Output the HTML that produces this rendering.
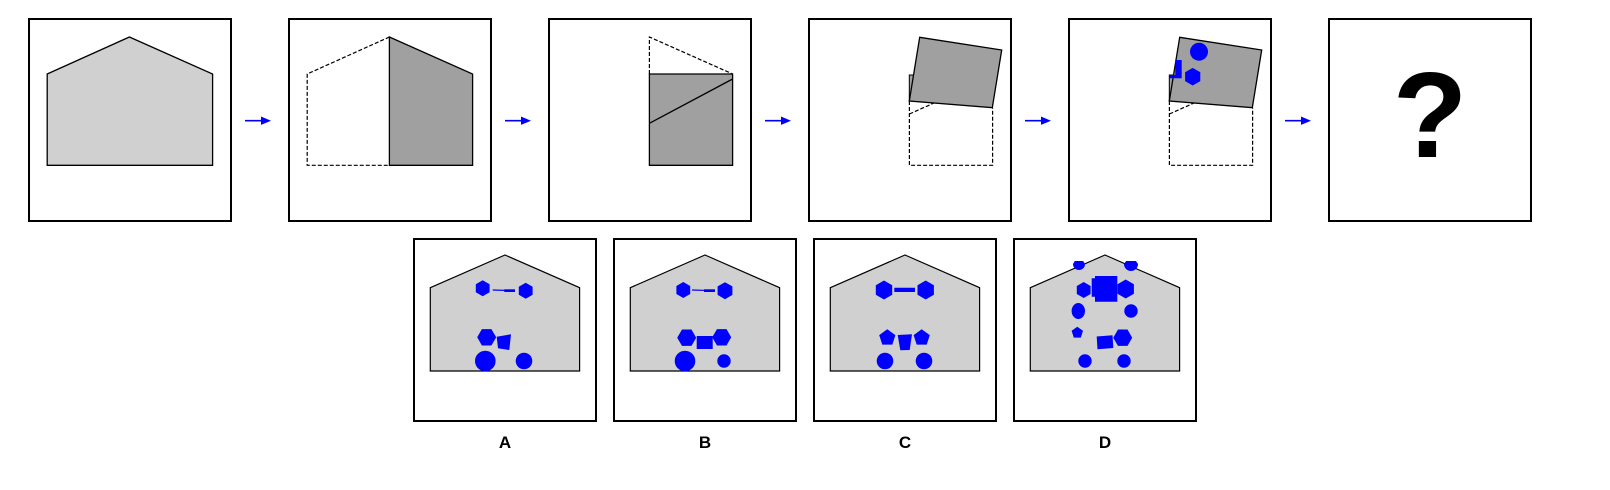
<!DOCTYPE html>
<html><head><meta charset="utf-8"><style>
html,body{margin:0;padding:0;background:#fff;}
svg{display:block;}
</style></head><body>
<svg id="s" width="1610" height="490" viewBox="0 0 1610 490" xmlns="http://www.w3.org/2000/svg">
<g id="top">
  <rect x="29" y="19" width="202" height="202" fill="#fff" stroke="#000" stroke-width="2"/>
  <polygon points="47.2,74 129.4,37 212.6,74 212.6,165.3 47.2,165.3" fill="#d0d0d0" stroke="#000" stroke-width="1.3"/>

  <rect x="289" y="19" width="202" height="202" fill="#fff" stroke="#000" stroke-width="2"/>
  <polyline points="389.4,37 307.2,74 307.2,165.3 389.4,165.3" fill="none" stroke="#000" stroke-width="1.2" stroke-dasharray="4,2"/>
  <polygon points="389.4,37 472.6,74 472.6,165.3 389.4,165.3" fill="#a0a0a0" stroke="#000" stroke-width="1.3"/>

  <rect x="549" y="19" width="202" height="202" fill="#fff" stroke="#000" stroke-width="2"/>
  <polyline points="649.4,74 649.4,37 732.6,74" fill="none" stroke="#000" stroke-width="1.2" stroke-dasharray="4,2"/>
  <polygon points="649.4,74 732.6,74 732.6,165.3 649.4,165.3" fill="#a0a0a0" stroke="#000" stroke-width="1.3"/>
  <line x1="649.4" y1="123.3" x2="732.6" y2="79" stroke="#000" stroke-width="1.3"/>

  <rect x="809" y="19" width="202" height="202" fill="#fff" stroke="#000" stroke-width="2"/>
  <polyline points="909.4,101 909.4,165.3 992.6,165.3 992.6,107.7" fill="none" stroke="#000" stroke-width="1.2" stroke-dasharray="4,2"/>
  <line x1="909.4" y1="114" x2="934" y2="103" stroke="#000" stroke-width="1.2" stroke-dasharray="4,2"/>
  <polygon points="909.3,75 913.5,75 910,101 909.3,101" fill="#a0a0a0" stroke="#000" stroke-width="1"/>
  <polygon points="919.7,37.3 1001.7,50 992.3,107.7 909.3,101" fill="#a0a0a0" stroke="#000" stroke-width="1.3"/>

  <rect x="1069" y="19" width="202" height="202" fill="#fff" stroke="#000" stroke-width="2"/>
  <polyline points="1169.4,101 1169.4,165.3 1252.6,165.3 1252.6,107.7" fill="none" stroke="#000" stroke-width="1.2" stroke-dasharray="4,2"/>
  <line x1="1169.4" y1="114" x2="1194" y2="103" stroke="#000" stroke-width="1.2" stroke-dasharray="4,2"/>
  <polygon points="1169.3,75 1173.5,75 1170,101 1169.3,101" fill="#a0a0a0" stroke="#000" stroke-width="1"/>
  <polygon points="1179.7,37.3 1261.7,50 1252.3,107.7 1169.3,101" fill="#a0a0a0" stroke="#000" stroke-width="1.3"/>
  <circle cx="1199" cy="51.7" r="9" fill="#0000ff"/>
  <polygon points="1175.3,60 1181.7,60 1181.7,78.3 1169.3,78.3 1169.3,75 1175.3,75" fill="#0000ff"/>

  <rect x="1329" y="19" width="202" height="202" fill="#fff" stroke="#000" stroke-width="2"/>
  <text x="1430" y="157" text-anchor="middle" font-family="Liberation Sans, sans-serif" font-weight="bold" font-size="122" fill="#000">?</text>
</g>
<g id="arrows"></g>
<g id="opts"></g>
<g id="marks"></g>
</svg>
<script>
var NS="http://www.w3.org/2000/svg";
var arrowStarts=[245,505,765,1025,1285];
var optionLefts=[414,614,814,1014];
var optionLabels=["A","B","C","D"];
// hexagons: [cx, cy, r, rotation]
var hexes=[[1192.7,76.7,8.8,90],[482.7,288.3,8,90],[525.7,290.7,8,90],[486.7,337.3,9.5,0],[683.3,290,8,90],[725,290.7,8.5,90],[686.7,337.7,9.5,0],[721.7,337.3,9.5,0],[884,290,9.5,90],[925.7,290,9.5,90],[1083.7,290,8,90],[1125.7,289,9.5,90],[1122.7,337.7,9.5,0]];
var pents=[[887.3,337.7,8.5],[921.7,337.7,8.5],[1077.3,332.7,6]];
var circles=[[485.3,361,10.3],[524,361,8.3],[685,361,10.3],[724,361,6.7],[885,361,8.3],[924,361,8.3],[1131,311,6.7],[1085,361,6.7],[1124,361,6.7]];
var polys=[
 "496.7,336.7 511,334.3 509.3,350 498,348.3",
 "696.7,336 712.7,336 712.7,349 696.7,349",
 "894.3,287.7 915,287.7 915,292 894.3,292",
 "897.7,335 912,334.3 909.7,350 900.3,350.3",
 "504.3,289.3 515,289.3 515,292 504.3,292",
 "704,289.3 715,289.3 715,292 704,292",
 "1091.7,278.3 1106.7,278.3 1106.7,296.7 1091.7,296.7",
 "1095,276 1117.3,276 1117.3,301.7 1095,301.7",
 "1096.7,336.5 1112.5,335.3 1113.3,348 1097.5,349.2"
];
var arrowsG=document.getElementById('arrows');
arrowStarts.forEach(function(x){
  var l=document.createElementNS(NS,'line');
  l.setAttribute('x1',x);l.setAttribute('x2',x+18);l.setAttribute('y1',120.7);l.setAttribute('y2',120.7);
  l.setAttribute('stroke','#0000ff');l.setAttribute('stroke-width','1.6');
  
  
  arrowsG.appendChild(l);
  var p=document.createElementNS(NS,'polygon');
  p.setAttribute('points',(x+16)+',116.5 '+(x+26)+',120.7 '+(x+16)+',124.9');
  p.setAttribute('fill','#0000ff');
  
  
  arrowsG.appendChild(p);
});
var optsG=document.getElementById('opts');
optionLefts.forEach(function(x,i){
  var r=document.createElementNS(NS,'rect');
  r.setAttribute('x',x);r.setAttribute('y',239);r.setAttribute('width',182);r.setAttribute('height',182);
  r.setAttribute('fill','#fff');r.setAttribute('stroke','#000');r.setAttribute('stroke-width','2');
  
  
  optsG.appendChild(r);
  var h=document.createElementNS(NS,'polygon');
  h.setAttribute('points',(x+16.3)+',287.7 '+(x+91)+',255 '+(x+165.6)+',287.7 '+(x+165.6)+',371 '+(x+16.3)+',371');
  h.setAttribute('fill','#d0d0d0');h.setAttribute('stroke','#000');h.setAttribute('stroke-width','1.2');
  
  
  optsG.appendChild(h);
  var t=document.createElementNS(NS,'text');
  t.setAttribute('x',x+91);t.setAttribute('y',448);t.setAttribute('text-anchor','middle');
  t.setAttribute('font-family','Liberation Sans, sans-serif');t.setAttribute('font-weight','bold');t.setAttribute('font-size','17');
  t.textContent=optionLabels[i];
  
  
  optsG.appendChild(t);
});
var m=document.getElementById('marks');
function reg(cx,cy,r,n,rot){var pts=[];for(var k=0;k<n;k++){var a=(rot+k*360/n)*Math.PI/180;pts.push((cx+r*Math.cos(a)).toFixed(1)+','+(cy+r*Math.sin(a)).toFixed(1));}return pts.join(' ');}
hexes.forEach(function(d){
  var p=document.createElementNS(NS,'polygon');
  p.setAttribute('points',reg(d[0],d[1],d[2],6,d[3]));p.setAttribute('fill','#0000ff');
  
  
  m.appendChild(p);
});
pents.forEach(function(d){
  var p=document.createElementNS(NS,'polygon');
  p.setAttribute('points',reg(d[0],d[1],d[2],5,-90));p.setAttribute('fill','#0000ff');
  
  
  m.appendChild(p);
});
circles.forEach(function(d){
  var c=document.createElementNS(NS,'circle');
  c.setAttribute('cx',d[0]);c.setAttribute('cy',d[1]);c.setAttribute('r',d[2]);c.setAttribute('fill','#0000ff');
  
  
  m.appendChild(c);
});
polys.forEach(function(d){
  var p=document.createElementNS(NS,'polygon');
  p.setAttribute('points',d);p.setAttribute('fill','#0000ff');
  
  
  m.appendChild(p);
});
[[492.7,290,515,290.7],[692,290,715,290.7]].forEach(function(d){
  var l=document.createElementNS(NS,'line');
  l.setAttribute('x1',d[0]);l.setAttribute('y1',d[1]);l.setAttribute('x2',d[2]);l.setAttribute('y2',d[3]);
  l.setAttribute('stroke','#0000ff');l.setAttribute('stroke-width','1.2');
  
  
  m.appendChild(l);
});
// clipped roof circles in option D
var e=document.createElementNS(NS,'ellipse');
e.setAttribute('cx',1078.3);e.setAttribute('cy',311);e.setAttribute('rx',6.7);e.setAttribute('ry',8);e.setAttribute('fill','#0000ff');


m.appendChild(e);
[[1079,264,6],[1131,264,7]].forEach(function(d){
  var p=document.createElementNS(NS,'path');
  var x=d[0],y=d[1],r=d[2];
  p.setAttribute('d','M'+(x-r)+','+y+' A'+r+','+r+' 0 0 0 '+(x+r)+','+y+' L'+(x+r*0.7)+','+(y-3)+' L'+(x-r*0.7)+','+(y-3)+' Z');
  p.setAttribute('fill','#0000ff');
  
  
  m.appendChild(p);
});
</script>
</body></html>
